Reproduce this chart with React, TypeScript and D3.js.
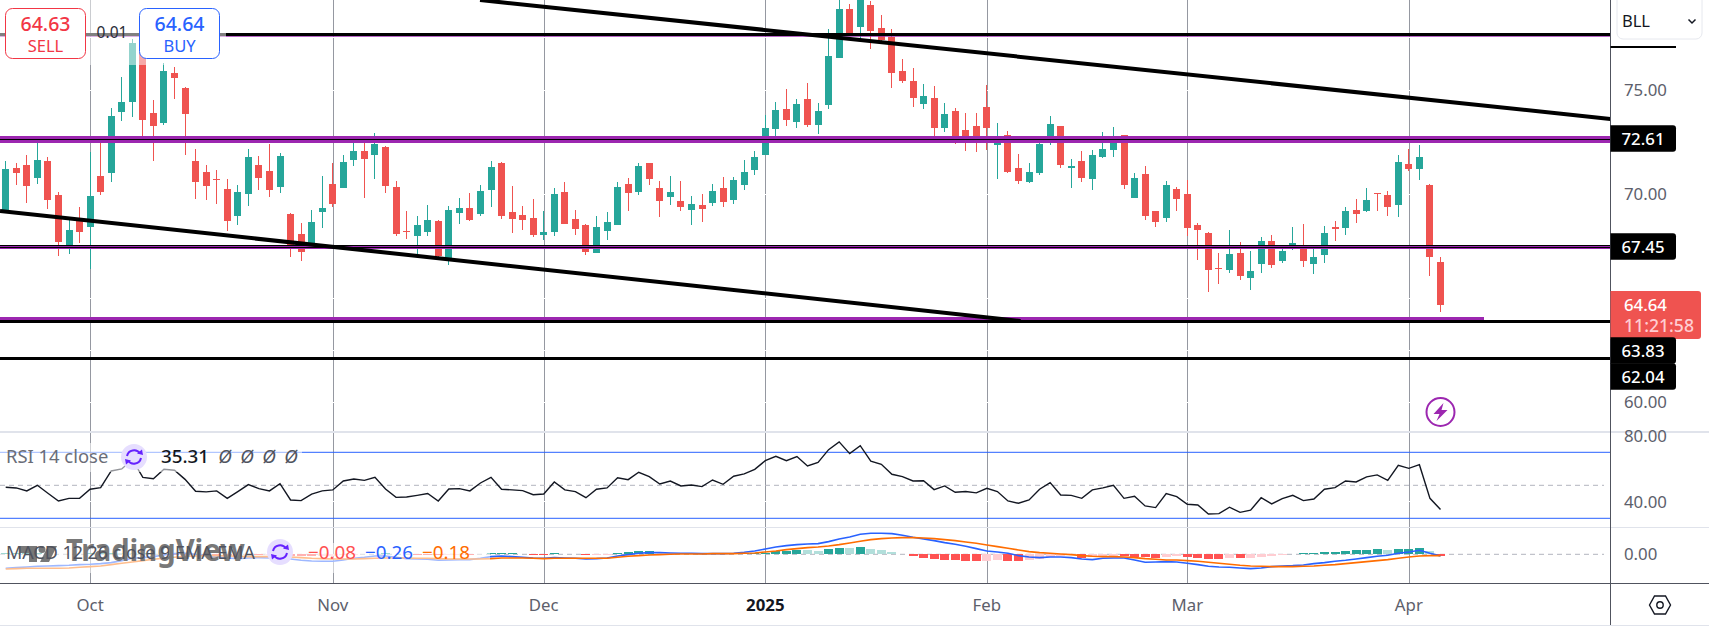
import * as d3 from "d3";
import React from "react";

const WIDTH = 1709;
const HEIGHT = 627;
const AXIS_X = 1610.5;

const opens = [69.22,71.24,71.38,70.77,71.57,69.94,67.54,68.69,68.40,70.85,71.00,73.92,74.40,76.90,73.88,73.40,75.80,75.08,71.57,71.04,70.71,70.23,68.93,69.99,71.38,71.09,70.32,69.03,68.07,67.54,69.12,70.47,70.28,71.62,72.05,71.86,72.24,70.32,68.21,67.97,68.16,68.69,66.82,69.08,69.32,69.03,70.18,71.48,69.12,68.98,68.84,68.02,68.16,70.08,68.79,68.50,67.16,68.21,68.50,70.47,70.08,71.48,70.28,69.84,69.65,69.22,69.46,69.56,70.28,69.70,70.42,71.14,71.86,73.11,74.07,73.44,74.55,73.30,74.26,76.52,78.87,78.00,79.06,77.96,77.54,75.89,75.41,74.31,74.60,73.16,73.97,73.06,73.25,74.16,72.34,72.82,71.24,70.56,71.00,72.58,73.25,71.24,71.57,70.71,71.76,72.10,72.82,69.80,70.95,69.17,68.84,70.23,69.99,68.50,68.12,66.44,66.34,67.16,65.96,66.63,67.73,66.77,67.54,67.54,66.63,67.06,68.40,68.36,69.22,69.17,70.04,69.94,69.46,71.43,71.19,70.42,66.72];
const highs = [71.57,71.48,71.86,72.45,71.76,70.08,68.74,69.36,72.00,72.42,74.12,75.60,77.41,77.06,74.50,76.26,76.08,75.12,72.15,71.38,71.14,70.71,70.42,72.15,71.81,72.39,71.96,69.08,68.60,69.22,70.85,71.48,71.86,72.42,72.42,72.92,72.29,70.61,69.17,68.93,69.46,68.74,69.41,69.80,70.04,70.42,71.57,71.52,70.37,69.41,69.75,69.17,70.28,70.56,69.22,68.55,68.93,69.12,70.56,70.76,71.48,71.48,70.61,70.85,70.61,69.89,69.99,70.47,70.80,70.80,71.62,72.05,73.78,74.40,75.03,74.55,75.32,74.36,77.91,79.30,79.11,79.60,79.25,78.58,77.91,76.47,76.04,75.27,75.17,74.36,74.12,73.88,73.88,75.22,73.40,73.01,71.91,71.48,72.42,73.73,73.25,71.67,72.05,72.10,72.96,73.20,72.82,70.99,71.33,69.17,70.61,70.32,70.66,68.60,68.16,67.16,68.26,67.68,67.25,67.92,68.02,67.54,68.40,68.55,67.54,68.45,68.69,69.36,69.75,70.28,70.04,70.13,71.86,72.15,72.34,70.47,66.96];
const lows = [69.06,70.42,69.57,70.47,69.27,67.01,67.11,67.64,66.39,69.94,70.56,73.49,73.68,72.58,71.57,73.30,74.55,71.86,69.75,69.70,69.51,68.21,68.50,69.41,70.18,69.84,70.04,66.96,66.77,67.46,68.36,69.36,70.28,71.33,69.80,70.71,70.04,67.97,67.83,67.06,67.97,66.90,66.58,68.55,68.69,68.93,69.36,68.79,68.12,68.26,67.92,67.78,67.97,68.55,68.02,67.06,67.16,67.78,68.50,69.17,69.94,70.42,68.88,69.46,69.17,68.50,68.64,69.41,69.36,69.51,70.18,70.90,71.86,72.74,73.25,73.16,73.20,72.87,74.07,76.52,77.57,77.28,76.95,77.19,75.08,75.32,74.16,74.07,72.77,72.96,72.39,72.05,72.00,72.10,70.71,71.00,70.47,70.52,70.90,72.34,71.24,70.28,70.56,70.18,71.72,71.76,70.23,69.80,68.74,68.40,68.64,69.17,67.97,66.82,65.28,65.67,66.20,65.86,65.38,66.20,66.44,66.68,67.30,66.48,66.15,66.68,67.73,68.02,68.60,69.12,69.17,68.93,68.88,71.09,70.66,66.05,64.32];
const closes = [71.19,71.00,70.39,71.62,69.70,67.68,68.26,68.16,69.89,70.08,73.73,74.40,77.22,73.54,73.25,75.89,75.56,73.83,70.56,70.37,70.66,68.69,70.08,71.76,70.76,70.18,71.81,67.54,67.20,68.64,69.32,69.51,71.52,72.05,71.67,72.39,70.37,68.07,68.16,68.50,68.74,67.01,69.22,69.32,68.74,70.13,71.28,68.93,68.79,68.74,68.02,68.16,69.99,68.55,68.31,67.20,68.40,68.64,70.32,70.04,71.33,70.71,69.65,70.08,69.36,69.51,69.27,70.13,69.60,70.66,71.04,71.76,73.16,74.02,73.54,74.31,73.30,73.97,76.61,78.87,77.67,79.35,77.81,77.38,75.80,75.41,74.60,74.69,73.16,73.83,72.77,72.58,72.58,73.16,72.44,71.04,70.61,71.04,72.39,73.35,71.38,71.33,70.76,71.86,72.15,72.58,70.42,70.76,68.93,68.64,70.42,69.75,68.36,68.26,66.34,66.39,67.11,66.05,66.29,67.73,66.58,67.25,67.64,66.77,66.96,68.12,68.31,69.17,69.03,69.70,69.99,69.36,71.52,71.19,71.76,66.97,64.64];

const rsi = [48.8,48.4,46.6,50.0,45.2,40.5,42.1,42.1,47.6,48.6,58.7,59.9,65.6,54.8,54.0,59.7,59.1,53.6,46.4,46.0,46.6,42.1,46.2,50.4,48.0,46.6,51.0,41.1,40.7,44.7,46.6,47.2,52.6,53.8,53.0,54.8,47.8,42.7,42.9,43.9,45.0,40.5,47.8,48.0,46.6,51.4,54.8,47.6,47.2,46.8,44.3,44.7,52.0,47.2,46.2,42.5,47.6,48.4,54.6,53.4,57.9,55.3,50.8,52.6,49.6,50.2,49.2,53.2,50.6,55.5,56.9,59.7,64.9,67.6,64.9,67.4,61.7,63.9,71.6,76.3,69.2,74.0,64.7,62.7,56.7,55.3,52.6,52.8,47.4,49.6,45.8,46.2,45.4,48.2,46.2,40.5,39.1,41.1,47.6,51.6,44.1,43.9,42.1,47.2,48.4,50.0,42.1,43.3,37.5,36.5,45.0,43.1,38.5,38.1,32.6,32.8,36.7,33.6,34.9,42.5,38.7,41.9,43.9,40.7,41.7,47.6,48.6,52.6,52.0,55.1,56.3,53.0,62.1,60.3,62.5,42.1,35.31];

const macdLine = [-.84,-.80,-.76,-.72,-.70,-.68,-.66,-.62,-.60,-.56,-.50,-.38,-.24,-.20,-.14,-.04,.04,.06,0,-.08,-.14,-.22,-.26,-.22,-.20,-.22,-.20,-.28,-.36,-.40,-.42,-.42,-.34,-.24,-.18,-.10,-.10,-.18,-.26,-.28,-.30,-.36,-.34,-.32,-.32,-.24,-.14,-.10,-.14,-.18,-.22,-.24,-.20,-.22,-.24,-.28,-.26,-.22,-.10,-.02,.06,.10,.10,.08,.06,.06,.04,.04,.04,.06,.12,.20,.32,.44,.52,.58,.62,.64,.76,.92,1.04,1.20,1.26,1.26,1.24,1.14,1.02,.92,.82,.70,.60,.48,.34,.20,.14,.06,-.08,-.16,-.20,-.16,-.16,-.20,-.28,-.32,-.24,-.22,-.22,-.34,-.48,-.46,-.44,-.46,-.54,-.62,-.72,-.76,-.78,-.82,-.86,-.82,-.74,-.70,-.68,-.64,-.56,-.50,-.42,-.36,-.28,-.20,-.12,-.06,.06,.14,.24,.06,-.10];
const signalLine = [-.88,-.86,-.84,-.84,-.84,-.84,-.82,-.78,-.74,-.70,-.62,-.54,-.46,-.38,-.30,-.24,-.18,-.12,-.10,-.08,-.08,-.10,-.12,-.14,-.14,-.14,-.14,-.16,-.20,-.24,-.26,-.28,-.28,-.28,-.26,-.24,-.22,-.22,-.22,-.24,-.24,-.26,-.28,-.28,-.28,-.28,-.26,-.22,-.22,-.22,-.24,-.26,-.24,-.24,-.24,-.24,-.24,-.24,-.18,-.12,-.08,-.04,-.02,0,.02,.02,.02,.04,.04,.04,.06,.08,.14,.20,.28,.34,.40,.44,.50,.58,.68,.78,.88,.94,.98,1.00,1.00,.98,.94,.88,.82,.74,.66,.56,.46,.36,.26,.16,.10,.06,.02,-.02,-.08,-.12,-.14,-.14,-.16,-.20,-.26,-.30,-.34,-.34,-.38,-.42,-.48,-.54,-.60,-.66,-.70,-.72,-.74,-.74,-.74,-.72,-.70,-.66,-.62,-.56,-.50,-.44,-.38,-.32,-.24,-.16,-.10,-.08,-.08];
const histogram = [.06,.06,.06,.06,.04,.04,.02,.02,.06,.08,.10,.08,.06,.06,.04,.02,-.02,-.02,-.04,-.06,-.06,-.08,-.08,-.06,-.06,-.04,-.04,-.08,-.12,-.12,-.10,-.08,-.04,-.02,.02,.04,.08,.04,.02,-.02,-.04,-.06,-.04,-.02,-.02,.02,.06,.06,.06,.02,-.02,-.02,.06,.02,.02,-.06,-.04,-.02,.06,.12,.18,.18,.04,.02,.02,.02,.02,.02,.02,.04,.06,.08,.10,.20,.22,.28,.26,.20,.32,.40,.38,.44,.34,.26,.14,.04,-.08,-.20,-.26,-.32,-.36,-.38,-.40,-.38,-.32,-.40,-.40,-.34,-.26,-.14,-.10,-.06,-.20,-.14,-.12,-.10,-.12,-.14,-.18,-.22,-.14,-.12,-.18,-.20,-.26,-.28,-.20,-.22,-.20,-.16,-.12,-.06,.04,.08,.10,.14,.16,.20,.26,.28,.34,.26,.32,.34,.38,.20,-.08];

const monthLabels = ["Oct", "Nov", "Dec", "2025", "Feb", "Mar", "Apr"];
const monthBars = [8, 31, 51, 72, 93, 112, 133];
const priceTicks = [75, 70, 65, 60];
const priceGrid = [77.5, 75, 72.5, 70, 67.5, 65, 62.5, 60];

const upperTrend: [number, number][] = [[44.96, 79.3], [152.1, 73.59]];
const lowerTrend: [number, number][] = [[-0.54, 69.17], [96.2, 63.89]];

const GREEN = "#26a69a";
const RED = "#ef5350";
const PURPLE = "#9c27b0";
const BLUE = "#2962ff";
const ORANGE = "#ff6d00";
const FONT = "'Noto Sans', sans-serif";

const x = d3.scaleLinear().domain([0, 1]).range([5.7, 16.25]);
const y = d3.scaleLinear().domain([79.3, 60]).range([0, 402]);
const yRsi = d3.scaleLinear().domain([70, 30]).range([452.3, 518.3]);
const yMacd = d3.scaleLinear().domain([0, 1]).range([554.3, 537.63]);

const trendPath = d3.line<[number, number]>().x((d) => x(d[0])).y((d) => y(d[1]));
const rsiPath = d3.line<number>().x((_, i) => x(i)).y((d) => yRsi(d));
const macdPath = d3.line<number>().x((_, i) => x(i)).y((d) => yMacd(d));

const histColor = (i: number) => {
  const v = histogram[i];
  const prev = i > 0 ? histogram[i - 1] : v;
  if (v >= 0) return v < prev ? "#b2dfdb" : GREEN;
  return v > prev ? "#ffcdd2" : "#ff5252";
};

const PriceBox = ({ label, cy }: { label: string; cy: number }) => (
  <g>
    <path d={`M${AXIS_X} ${cy - 13.3}H1673a3 3 0 0 1 3 3V${cy + 10.3}a3 3 0 0 1 -3 3H${AXIS_X}Z`} fill="#000" />
    <text x={1643} y={cy + 6} textAnchor="middle" fill="#fff" fontSize={16.8} fontWeight={500}>{label}</text>
  </g>
);

const SyncIcon = ({ cx, cy }: { cx: number; cy: number }) => (
  <g transform={`translate(${cx},${cy})`}>
    <circle r={13} fill="#e6deff" />
    <path d="M-7 -1A7.2 7.2 0 0 1 6 -3.5M7 1A7.2 7.2 0 0 1 -6 3.5" fill="none" stroke="#6622ff" strokeWidth={2} />
    <path d="M3 -3.5L9 -2L8 -7.5ZM-3 3.5L-9 2L-8 7.5Z" fill="#6622ff" />
  </g>
);

const TradeBox = ({ bx, price, side, color }: { bx: number; price: string; side: string; color: string }) => (
  <g textAnchor="middle" fill={color}>
    <rect x={bx + 0.5} y={8.5} width={80} height={50} rx={7} fill="#fff" stroke={color} />
    <text x={bx + 40.5} y={31} fontSize={19.5} fontWeight={500}>{price}</text>
    <text x={bx + 40.5} y={51.5} fontSize={16.5}>{side}</text>
  </g>
);

export default function App() {
  return (
    <svg
      width={WIDTH}
      height={HEIGHT}
      viewBox={`0 0 ${WIDTH} ${HEIGHT}`}
      style={{ position: "fixed", left: 0, top: 0, background: "#fff" }}
      fontFamily={FONT}
    >
      <defs>
        <clipPath id="plot-main"><rect x={0} y={0} width={AXIS_X} height={431} /></clipPath>
        <clipPath id="plot-macd"><rect x={0} y={528} width={AXIS_X} height={55} /></clipPath>
      </defs>

      {/* month grid */}
      {monthBars.map((b) => (
        <line key={b} x1={Math.round(x(b)) + 0.5} x2={Math.round(x(b)) + 0.5} y1={0} y2={583} stroke="#9598a1" />
      ))}
      {priceGrid.map((p) => (
        <line key={p} x1={0} x2={AXIS_X} y1={Math.round(y(p)) + 0.5} y2={Math.round(y(p)) + 0.5} stroke="#fff" />
      ))}
      <line x1={0} x2={AXIS_X} y1={501.5} y2={501.5} stroke="#fff" />

      {/* candles */}
      <g clipPath="url(#plot-main)" shapeRendering="crispEdges">
        {opens.map((o, i) => {
          const c = closes[i];
          const color = c >= o ? GREEN : RED;
          const left = Math.round(x(i) - 3.5);
          const top = y(Math.max(o, c));
          return (
            <g key={i} fill={color}>
              <rect x={left + 3} y={y(highs[i])} width={1} height={y(lows[i]) - y(highs[i])} />
              <rect x={left} y={top} width={7} height={Math.max(1, y(Math.min(o, c)) - top)} />
            </g>
          );
        })}
      </g>

      {/* price levels */}
      <g shapeRendering="crispEdges">
        <rect x={0} y={36} width={AXIS_X} height={1} fill={PURPLE} fillOpacity={0.7} />
        <rect x={0} y={33} width={AXIS_X} height={3} fill="#000" />
        <rect x={0} y={136} width={AXIS_X} height={7} fill={PURPLE} />
        <rect x={0} y={139} width={AXIS_X} height={1} fill="#000" />
        <rect x={0} y={245} width={AXIS_X} height={4} fill={PURPLE} />
        <rect x={0} y={245} width={AXIS_X} height={1} fill="#000" />
        <rect x={0} y={247} width={AXIS_X} height={1} fill="#000" />
        <rect x={0} y={317} width={x(136) + 43} height={3} fill={PURPLE} />
        <rect x={0} y={320} width={AXIS_X} height={3} fill="#000" />
        <rect x={0} y={357} width={AXIS_X} height={3} fill="#000" />
      </g>

      {/* trend lines */}
      <g clipPath="url(#plot-main)" fill="none" stroke="#000" strokeWidth={4}>
        <path d={trendPath(upperTrend) ?? ""} />
        <path d={trendPath(lowerTrend) ?? ""} />
      </g>

      {/* order panel veil */}
      <rect x={0} y={0} width={226} height={65} fill="#fff" fillOpacity={0.5} />
      <text x={112} y={38} textAnchor="middle" fontSize={15.5} fill="#2a2e39">0.01</text>
      <TradeBox bx={5} price="64.63" side="SELL" color="#f23645" />
      <TradeBox bx={139} price="64.64" side="BUY" color={BLUE} />

      {/* lightning marker */}
      <g transform={`translate(${x(136)},412)`}>
        <circle r={14} fill="#fff" stroke={PURPLE} strokeWidth={2} />
        <path d="M3 -9L-7 2H-1L-4 9L7 -2H1Z" fill={PURPLE} />
      </g>

      {/* pane separators */}
      <rect x={0} y={431} width={WIDTH} height={2} fill="#e0e3eb" />
      <rect x={0} y={527} width={WIDTH} height={1} fill="#e0e3eb" />

      {/* rsi pane */}
      <line x1={0} x2={AXIS_X} y1={yRsi(70)} y2={yRsi(70)} stroke={BLUE} />
      <line x1={0} x2={AXIS_X} y1={yRsi(30)} y2={yRsi(30)} stroke={BLUE} />
      <line x1={0} x2={1604} y1={yRsi(50)} y2={yRsi(50)} stroke="#b2b5be" strokeDasharray="5 4" />
      <path d={rsiPath(rsi) ?? ""} fill="none" stroke="#131722" strokeWidth={1.4} />

      {/* macd pane */}
      <line x1={0} x2={1604} y1={yMacd(0)} y2={yMacd(0)} stroke="#b2b5be" strokeDasharray="5 4" />
      <g clipPath="url(#plot-macd)">
        <g shapeRendering="crispEdges">
          {histogram.map((v, i) => (
            <rect
              key={i}
              x={Math.round(x(i) - 4.5)}
              y={Math.min(yMacd(v), yMacd(0))}
              width={9}
              height={Math.abs(yMacd(v) - yMacd(0))}
              fill={histColor(i)}
            />
          ))}
        </g>
        <path d={macdPath(macdLine) ?? ""} fill="none" stroke={BLUE} strokeWidth={1.6} />
        <path d={macdPath(signalLine) ?? ""} fill="none" stroke={ORANGE} strokeWidth={1.6} />
      </g>

      {/* legends */}
      <rect x={0} y={443} width={302} height={29} fill="#fff" fillOpacity={0.55} />
      <text x={6} y={463} fontSize={18.4} fill="#6a6d78">RSI 14 close</text>
      <SyncIcon cx={134} cy={457} />
      <text x={161} y={463} fontSize={18.8} fontWeight={500} fill="#131722">35.31</text>
      {[225, 247, 269, 291].map((gx) => (
        <text key={gx} x={gx} y={463} fontSize={18.8} textAnchor="middle" fill="#50535e" fontStyle="italic">Ø</text>
      ))}

      <rect x={0} y={543} width={490} height={30} fill="#fff" fillOpacity={0.55} />
      {/* watermark */}
      <path d="M20 546H37V562H29V553H20ZM48 546H57L49 562H40Z" fill="#787878" />
      <circle cx={42} cy={549.5} r={3.5} fill="#787878" />
      <text x={66} y={561} fontSize={31} fontWeight={700} fill="#787878" textLength={179} lengthAdjust="spacingAndGlyphs">TradingView</text>
      <text x={6} y={559} fontSize={17.9} fill="#50535e" textLength={249} lengthAdjust="spacingAndGlyphs">MACD 12 26 close 9 EMA EMA</text>
      <SyncIcon cx={280} cy={552} />
      <text x={308} y={559} fontSize={18.8} fill="#ff5252">−0.08</text>
      <text x={365} y={559} fontSize={18.8} fill={BLUE}>−0.26</text>
      <text x={422} y={559} fontSize={18.8} fill={ORANGE}>−0.18</text>

      {/* price axis */}
      <rect x={AXIS_X - 0.5} y={0} width={1} height={625} fill="#50535e" />
      <rect x={0} y={583} width={WIDTH} height={1} fill="#50535e" />
      <rect x={0} y={625} width={WIDTH} height={1} fill="#e0e3eb" />
      <g fontSize={16.8} fill="#5d606b">
        {priceTicks.map((t) => (
          <text key={t} x={1624} y={y(t) + 6}>{t.toFixed(2)}</text>
        ))}
        <text x={1624} y={442}>80.00</text>
        <text x={1624} y={yRsi(40) + 6}>40.00</text>
        <text x={1624} y={yMacd(0) + 6}>0.00</text>
      </g>

      <rect x={AXIS_X} y={46} width={65.5} height={2} fill="#000" />
      <PriceBox label="72.61" cy={138.5} />
      <PriceBox label="67.45" cy={246.5} />
      <path d={`M${AXIS_X} 291H1698a3 3 0 0 1 3 3V336a3 3 0 0 1 -3 3H${AXIS_X}Z`} fill={RED} />
      <text x={1624} y={311} fontSize={16.8} fontWeight={500} fill="#fff">64.64</text>
      <text x={1624} y={332} fontSize={17.6} fontWeight={500} fill="#ffcdd2">11:21:58</text>
      <PriceBox label="63.83" cy={350.5} />
      <PriceBox label="62.04" cy={376.5} />

      {/* symbol box */}
      <path d="M1617 0V33a6 6 0 0 0 6 6H1696a6 6 0 0 0 6 -6V0" fill="#fff" stroke="#e6e8ee" />
      <text x={1622} y={26.5} fontSize={16.5} fill="#131722">BLL</text>
      <path d="M1688.5 19.5L1692 23L1695.5 19.5" fill="none" stroke="#131722" strokeWidth={1.5} />

      {/* time axis */}
      <g fontSize={16.8} textAnchor="middle" fill="#5d606b">
        {monthLabels.map((m, i) => (
          <text
            key={m}
            x={x(monthBars[i])}
            y={611}
            fontWeight={m === "2025" ? 700 : 400}
            fill={m === "2025" ? "#131722" : undefined}
          >
            {m}
          </text>
        ))}
      </g>

      {/* settings */}
      <g transform="translate(1660,605)" fill="none" stroke="#131722" strokeWidth={1.4}>
        <path d="M-10.5 0L-5.5 -9H5.5L10.5 0L5.5 9H-5.5Z" />
        <circle r={3.2} />
      </g>
    </svg>
  );
}
